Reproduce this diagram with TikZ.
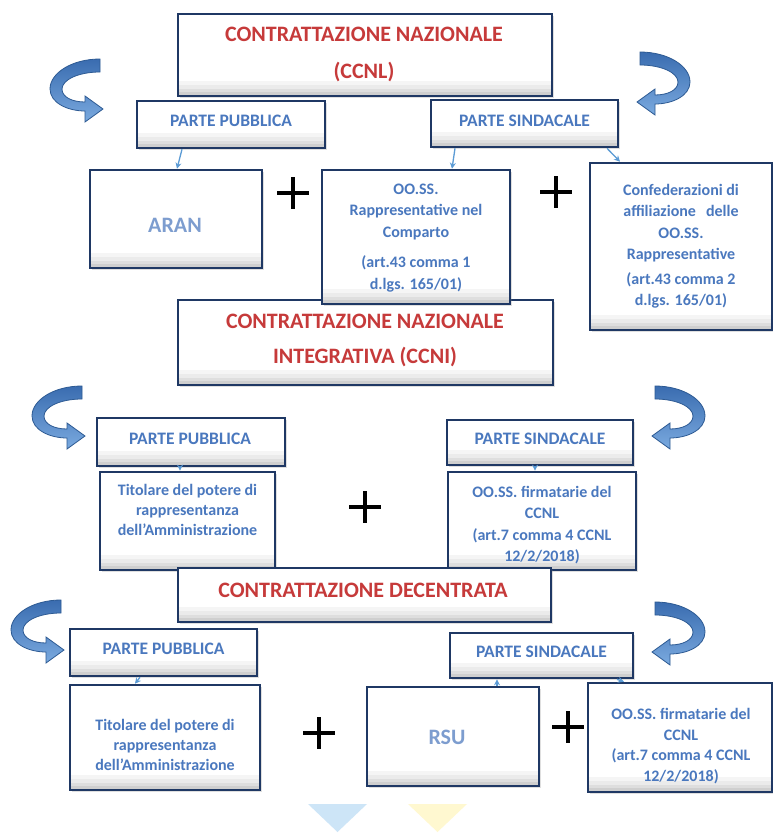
\documentclass[tikz,border=0pt]{standalone}
\usepackage{fontspec}
\setmainfont{Carlito}
\usetikzlibrary{arrows.meta,shadows}
\definecolor{navy}{HTML}{1F3864}
\definecolor{titred}{HTML}{C63A3A}
\definecolor{txtblue}{HTML}{4A78BE}
\definecolor{litblue}{HTML}{7D9DCF}
\definecolor{connblue}{HTML}{5B9BD5}
\definecolor{arrdark}{HTML}{2D5A93}
\definecolor{arrtop}{HTML}{3A6CB0}
\definecolor{arrbot}{HTML}{7AAADF}
\definecolor{tribl}{HTML}{CDE5F7}
\definecolor{triyl}{HTML}{FFF8D0}
\tikzset{
  box/.style={draw=navy, line width=2.6pt, fill=white, inner sep=0pt,
    drop shadow={shadow xshift=1.5pt, shadow yshift=-1.5pt, opacity=0.25},
    path picture={
      \fill[black!4] (path picture bounding box.south west) rectangle ([yshift=15pt]path picture bounding box.south east);
      \fill[black!8] (path picture bounding box.south west) rectangle ([yshift=11pt]path picture bounding box.south east);
      \fill[black!13] (path picture bounding box.south west) rectangle ([yshift=7pt]path picture bounding box.south east);
      \fill[black!19] (path picture bounding box.south west) rectangle ([yshift=4pt]path picture bounding box.south east);}},
  ttl/.style={font=\bfseries\fontsize{22}{27}\selectfont, text=titred, align=center, inner sep=0pt},
  lbl/.style={font=\bfseries\fontsize{17.5}{21}\selectfont, text=txtblue, align=center, inner sep=0pt},
  btxt/.style={font=\bfseries\fontsize{16}{21.5}\selectfont, text=txtblue, align=center, inner sep=0pt},
  bigtxt/.style={font=\bfseries\fontsize{22}{26}\selectfont, text=litblue, align=center, inner sep=0pt},
  conn/.style={draw=connblue, line width=1.3pt, -{Stealth[length=6pt,width=6pt]}},
  plusst/.style={draw=black, line width=4.2pt},
  carrow/.style={draw=arrdark, line width=0.8pt, top color=arrtop, bottom color=arrbot},
}
\newcommand\curvarr[3]{%
  \begin{scope}[shift={(#1,#2)}, xscale=#3]
    \path[carrow] (0,0) .. controls (-28,0) and (-50,14) .. (-50,30)
      .. controls (-50,44) and (-32,52) .. (-15,52) -- (-15,63) -- (3,50) -- (-15,37) -- (-15,43)
      .. controls (-28,43) and (-38,38) .. (-38,30) .. controls (-38,21) and (-22,13) .. (0,13) -- cycle;
  \end{scope}}
\newcommand\plusmark[2]{\draw[plusst] (#1-16,#2) -- (#1+16,#2) (#1,#2-16) -- (#1,#2+16);}
\begin{document}
\begin{tikzpicture}[x=1pt, y=-1pt]
\useasboundingbox[fill=white] (0,0) rectangle (772,833);

% ---------- level 1 ----------
\node[box, minimum width=374pt, minimum height=82pt] (ccnl) at (365,55) {};
\node[ttl] (ccnlT) at (364,54) {CONTRATTAZIONE NAZIONALE\\[10pt](CCNL)};
\curvarr{100}{59}{1}
\curvarr{640}{52}{-1}
\node[box, minimum width=188pt, minimum height=47pt] (pp1) at (231,124.5) {};
\node[lbl] (pp1T) at (231,121) {PARTE PUBBLICA};
\node[box, minimum width=187pt, minimum height=47pt] (ps1) at (524.5,123.5) {};
\node[lbl] (ps1T) at (524.5,121) {PARTE SINDACALE};
\node[box, minimum width=172pt, minimum height=98pt] (aran) at (176,219) {};
\node[bigtxt] (aranT) at (175,225) {ARAN};
\node[box, minimum width=182pt, minimum height=167pt] (conf) at (681,246.5) {};
\node[btxt] (confT) at (681,246) {Confederazioni di\\affiliazione\hspace{10pt}delle\\OO.SS.\\Rappresentative\\[3pt](art.43 comma 2\\d.lgs. 165/01)};

% ---------- level 2 title ----------
\node[box, minimum width=375pt, minimum height=85pt] (ccni) at (365.5,342.5) {};
\node[ttl] (ccniT) at (365,340) {CONTRATTAZIONE NAZIONALE\\[8pt]INTEGRATIVA (CCNI)};
\node[box, minimum width=188pt, minimum height=134pt] (ooss1) at (416,237) {};
\node[btxt] (ooss1T) at (416,238) {OO.SS.\\Rappresentative nel\\Comparto\\[9pt](art.43 comma 1\\d.lgs. 165/01)};
\plusmark{293}{193}
\plusmark{556}{192}
\draw[conn] ([xshift=-49pt]pp1.south) -- ([xshift=1pt]aran.north);
\draw[conn] ([xshift=-69.5pt]ps1.south) -- ([xshift=36pt]ooss1.north);
\draw[conn] ([xshift=82.5pt]ps1.south) -- ([xshift=-61pt]conf.north);

% ---------- level 2 ----------
\curvarr{82}{386}{1}
\curvarr{655}{386}{-1}
\node[box, minimum width=188pt, minimum height=48pt] (pp2) at (191,442) {};
\node[lbl] (pp2T) at (190,439) {PARTE PUBBLICA};
\node[box, minimum width=186pt, minimum height=45pt] (ps2) at (540,442.5) {};
\node[lbl] (ps2T) at (540,439) {PARTE SINDACALE};
\node[box, minimum width=175pt, minimum height=98pt] (tit2) at (187.5,521) {};
\node[btxt, font=\bfseries\fontsize{16}{20}\selectfont] (tit2T) at (187.5,510) {Titolare del potere di\\rappresentanza\\dell’Amministrazione};
\node[box, minimum width=188pt, minimum height=98pt] (ooss2) at (542,521) {};
\node[btxt] (ooss2T) at (542,525) {OO.SS. firmatarie del\\CCNL\\(art.7 comma 4 CCNL\\12/2/2018)};
\plusmark{365}{507}
\draw[conn] ([xshift=-11pt]pp2.south) -- ([xshift=-7.5pt]tit2.north);
\draw[conn] ([xshift=-5pt]ps2.south) -- ([xshift=-7pt]ooss2.north);

% ---------- level 3 ----------
\node[box, minimum width=373pt, minimum height=54pt] (dec) at (364.5,595) {};
\node[ttl] (decT) at (363,590) {CONTRATTAZIONE DECENTRATA};
\curvarr{61}{600}{1}
\curvarr{655}{602}{-1}
\node[box, minimum width=187pt, minimum height=47pt] (pp3) at (163.5,652.5) {};
\node[lbl] (pp3T) at (163.5,649) {PARTE PUBBLICA};
\node[box, minimum width=183pt, minimum height=45pt] (ps3) at (541.5,655.5) {};
\node[lbl] (ps3T) at (541.5,652) {PARTE SINDACALE};
\node[box, minimum width=190pt, minimum height=105pt] (tit3) at (165,737.5) {};
\node[btxt, font=\bfseries\fontsize{16}{20}\selectfont] (tit3T) at (165,745) {Titolare del potere di\\rappresentanza\\dell’Amministrazione};
\node[box, minimum width=172pt, minimum height=99pt] (rsu) at (453,736.5) {};
\node[bigtxt] (rsuT) at (447,737) {RSU};
\node[box, minimum width=184pt, minimum height=109pt] (ooss3) at (680,737.5) {};
\node[btxt, font=\bfseries\fontsize{16}{20.7}\selectfont] (ooss3T) at (681,746) {OO.SS. firmatarie del\\CCNL\\(art.7 comma 4 CCNL\\12/2/2018)};
\plusmark{319}{733}
\plusmark{568}{727}
\draw[conn] ([xshift=-23.5pt]pp3.south) -- ([xshift=-30pt]tit3.north);
\draw[conn] ([xshift=44pt]rsu.north) -- ([xshift=-44.5pt]ps3.south);
\draw[conn] ([xshift=75.5pt]ps3.south) -- ([xshift=-56pt]ooss3.north);

% ---------- bottom marks ----------
\fill[tribl] (308,804) -- (367,804) -- (337.5,832) -- cycle;
\fill[triyl] (408,804) -- (467,804) -- (437.5,832) -- cycle;
\end{tikzpicture}
\end{document}
